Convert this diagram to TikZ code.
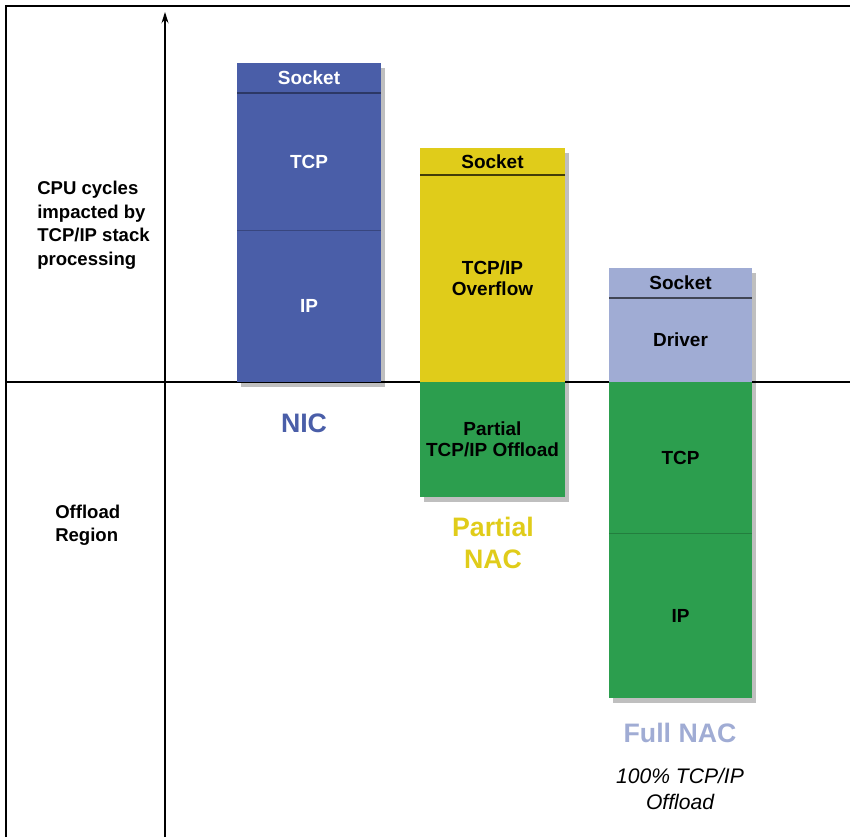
\documentclass[tikz,border=0pt]{standalone}
\usepackage{fontspec}
\setmainfont{Liberation Sans}
\usetikzlibrary{shadows,arrows.meta}
\definecolor{nicblue}{RGB}{74,94,168}
\definecolor{nacyellow}{RGB}{224,204,26}
\definecolor{offgreen}{RGB}{44,158,78}
\definecolor{drvlav}{RGB}{160,172,212}
\begin{document}
\begin{tikzpicture}[
        layer/.style={rectangle, inner sep=0pt, outer sep=0pt, align=center, font=\fontsize{13.5}{15}\selectfont\bfseries, drop shadow={shadow xshift=0.11cm, shadow yshift=-0.12cm, fill=black, opacity=0.25}},
        nic/.style={layer, fill=nicblue, text=white, minimum width=3.6cm},
        half/.style={layer, minimum width=3.625cm},
        full/.style={layer, minimum width=3.575cm},
        divider/.style={line width=1.2pt},
        caption/.style={font=\fontsize{19}{23}\selectfont\bfseries, align=center},
        side/.style={anchor=west, align=left, inner sep=0pt, font=\fontsize{13.2}{17}\selectfont\bfseries},
        axis/.style={line width=0.8pt}
    ]
        \useasboundingbox (0,0) rectangle (21.25,-20.925);
        \draw[line width=1.5pt] (0.15,-20.925) -- (0.15,-0.15) -- (21.25,-0.15);
        \coordinate (ybot) at (4.125,-20.925);
        \coordinate (ytop) at (4.125,-0.3);
        \coordinate (xl) at (0.15,-9.55);
        \coordinate (xr) at (21.25,-9.55);
        \draw[axis, -{Stealth[length=8pt, width=5pt]}] (ybot) -- (ytop);
        \draw[axis] (xl) -- (xr);

        \node[side] (cpu) at (0.925,-5.63) {CPU cycles\\impacted by\\TCP/IP stack\\processing};
        \node[side] (region) at (1.375,-13.13) {Offload\\Region};

        \node[nic, minimum height=0.75cm] (nicsock) at (7.725,-1.95) {Socket};
        \node[nic, minimum height=3.425cm] (nictcp) at (7.725,-4.0375) {TCP};
        \node[nic, minimum height=3.8cm] (nicip) at (7.725,-7.65) {IP};
        \draw[divider, nicblue!60!black] (nicsock.south west) -- (nicsock.south east);
        \draw[divider, nicblue!75!black, line width=0.6pt] (nictcp.south west) -- (nictcp.south east);
        \node[caption, text=nicblue] (niclabel) at (7.6,-10.575) {NIC};

        \node[half, fill=nacyellow, minimum height=0.675cm] (halfsock) at (12.3125,-4.0375) {Socket};
        \node[half, fill=nacyellow, minimum height=5.175cm] (halfover) at (12.3125,-6.9625) {TCP/IP\\Overflow};
        \node[half, fill=offgreen, minimum height=2.875cm] (halfoff) at (12.3125,-10.9875) {Partial\\TCP/IP Offload};
        \draw[divider, nacyellow!30!black] (halfsock.south west) -- (halfsock.south east);
        \node[caption, text=nacyellow] (halflabel) at (12.325,-13.575) {Partial\\NAC};

        \node[full, fill=drvlav, minimum height=0.75cm] (fullsock) at (17.0125,-7.075) {Socket};
        \node[full, fill=drvlav, minimum height=2.1cm] (fulldrv) at (17.0125,-8.5) {Driver};
        \node[full, fill=offgreen, minimum height=3.775cm] (fulltcp) at (17.0125,-11.4375) {TCP};
        \node[full, fill=offgreen, minimum height=4.125cm] (fullip) at (17.0125,-15.3875) {IP};
        \draw[divider, drvlav!40!black] (fullsock.south west) -- (fullsock.south east);
        \draw[offgreen!80!black, line width=0.5pt] (fulltcp.south west) -- (fulltcp.south east);
        \node[caption, text=drvlav] (fulllabel) at (17.0,-18.325) {Full NAC};
        \node[font=\fontsize{15}{18.5}\selectfont\itshape, align=center] (fullnote) at (17.0,-19.725) {100\% TCP/IP\\Offload};
    \end{tikzpicture}
\end{document}
